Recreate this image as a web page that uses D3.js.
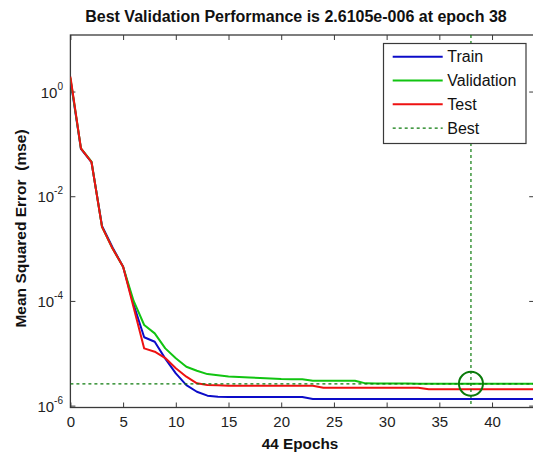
<!DOCTYPE html>
<html><head><meta charset="utf-8">
<script src="https://cdn.jsdelivr.net/npm/d3@7"></script>
<style>body{margin:0;background:#fff}svg{display:block}text{font-family:"Liberation Sans",Arial,sans-serif}</style>
</head><body>
<svg id="c" width="533" height="454"></svg>
<script>
const epochs = d3.range(0, 45);
const train = [1.7,0.08,0.045,0.0027,0.00105,4.5e-4,8.5e-5,2.02e-5,1.66e-5,7.9e-6,4.14e-6,2.47e-6,1.84e-6,1.55e-6,1.48e-6,
  1.46e-6,1.46e-6,1.46e-6,1.46e-6,1.46e-6,1.46e-6,1.46e-6,1.46e-6,
  1.34e-6,1.34e-6,1.34e-6,1.34e-6,1.34e-6,1.34e-6,1.34e-6,1.34e-6,1.34e-6,1.34e-6,1.34e-6,1.34e-6,1.34e-6,1.34e-6,1.34e-6,1.34e-6,1.34e-6,1.34e-6,1.34e-6,1.34e-6,1.34e-6,1.34e-6];
const validation = [1.8,0.082,0.046,0.0026,0.001,4.5e-4,1.0e-4,3.47e-5,2.4e-5,1.24e-5,8.0e-6,5.53e-6,4.64e-6,4.0e-6,3.79e-6,
  3.6e-6,3.52e-6,3.44e-6,3.37e-6,3.29e-6,3.22e-6,3.19e-6,3.19e-6,
  2.99e-6,2.99e-6,2.99e-6,2.99e-6,2.99e-6,
  2.66e-6,2.65e-6,2.65e-6,2.64e-6,2.64e-6,2.63e-6,2.63e-6,2.62e-6,2.62e-6,2.615e-6,2.6105e-6,
  2.62e-6,2.62e-6,2.62e-6,2.62e-6,2.62e-6,2.62e-6];
const test = [1.92,0.082,0.045,0.0026,0.001,4.5e-4,7.5e-5,1.24e-5,1.07e-5,8.1e-6,5.16e-6,3.57e-6,2.67e-6,2.47e-6,2.45e-6,
  2.4e-6,2.4e-6,2.4e-6,2.4e-6,2.4e-6,2.4e-6,2.4e-6,2.4e-6,2.4e-6,
  2.2e-6,2.2e-6,2.2e-6,2.2e-6,2.2e-6,2.2e-6,2.2e-6,2.2e-6,2.2e-6,2.2e-6,
  2.05e-6,2.05e-6,2.05e-6,2.05e-6,2.05e-6,2.05e-6,2.05e-6,2.05e-6,2.05e-6,2.05e-6,2.05e-6];
const bestEpoch = 38;
const bestValue = 2.6105e-6;
const xTicks = [0,5,10,15,20,25,30,35,40];
const yTickExps = [0,-2,-4,-6];
const seriesNames = ["Train","Validation","Test","Best"];
const titleText = "Best Validation Performance is 2.6105e-006 at epoch 38";
const xLabel = "44 Epochs";
const yLabel = "Mean Squared Error  (mse)";

const svg = d3.select("#c");
const L = 70.4, R = 534.2, T = 35, B = 407.5;
const x = d3.scaleLinear().domain([0, 44]).range([L, R]);
const y = d3.scaleLog().domain([Math.pow(10, -6.036), Math.pow(10, 1.08)]).range([B, T]);
const axisCol = "#3a3a3a";
const colors = {Train:"#0c0cc8", Validation:"#11c411", Test:"#ee1111", Best:"#0a7a0a"};

// frame
svg.append("rect").attr("x", L).attr("y", T).attr("width", R - L).attr("height", B - T)
  .attr("fill", "none").attr("stroke", axisCol).attr("stroke-width", 1.3);

// ticks via axes
const xb = d3.axisBottom(x).tickValues(xTicks).tickSizeInner(-5).tickSizeOuter(0).tickPadding(9);
const gx = svg.append("g").attr("transform", `translate(0,${B})`).call(xb);
gx.select(".domain").remove();
gx.selectAll("line").attr("stroke", axisCol);
gx.selectAll("text").attr("font-size", 15).attr("fill", "#222").attr("font-family", "Liberation Sans, Arial, sans-serif");
const xt = d3.axisTop(x).tickValues(xTicks).tickSizeInner(-5).tickSizeOuter(0).tickFormat("");
const gxt = svg.append("g").attr("transform", `translate(0,${T})`).call(xt);
gxt.select(".domain").remove();
gxt.selectAll("line").attr("stroke", axisCol);

const yVals = yTickExps.map(e => Math.pow(10, e));
const yl = d3.axisLeft(y).tickValues(yVals).tickSizeInner(-5).tickSizeOuter(0).tickFormat("");
const gy = svg.append("g").attr("transform", `translate(${L},0)`).call(yl);
gy.select(".domain").remove();
gy.selectAll("line").attr("stroke", axisCol);
const yr = d3.axisRight(y).tickValues(yVals).tickSizeInner(-5).tickSizeOuter(0).tickFormat("");
const gyr = svg.append("g").attr("transform", `translate(${R},0)`).call(yr);
gyr.select(".domain").remove();
gyr.selectAll("line").attr("stroke", axisCol);

// y tick labels 10^n
yTickExps.forEach(e => {
  const t = svg.append("text").attr("x", 63).attr("y", y(Math.pow(10, e)) + 6)
    .attr("text-anchor", "end").attr("font-size", 15).attr("fill", "#222");
  t.append("tspan").text("10");
  t.append("tspan").attr("dy", -8).attr("font-size", 10).text(e === 0 ? "0" : "-" + Math.abs(e));
});

// clip
svg.append("clipPath").attr("id", "clip").append("rect").attr("x", L).attr("y", T).attr("width", R - L).attr("height", B - T);
const plot = svg.append("g").attr("clip-path", "url(#clip)");

const line = d3.line().x((d, i) => x(epochs[i])).y(d => y(d));
[["Train", train], ["Validation", validation], ["Test", test]].forEach(([n, arr]) => {
  plot.append("path").datum(arr).attr("d", line).attr("fill", "none")
    .attr("stroke", colors[n]).attr("stroke-width", 2).attr("stroke-linejoin", "round");
});

// best lines
plot.append("line").attr("x1", L).attr("x2", R).attr("y1", y(bestValue)).attr("y2", y(bestValue))
  .attr("stroke", colors.Best).attr("stroke-width", 1.2).attr("stroke-dasharray", "3,3");
plot.append("line").attr("x1", x(bestEpoch)).attr("x2", x(bestEpoch)).attr("y1", T).attr("y2", B)
  .attr("stroke", colors.Best).attr("stroke-width", 1.2).attr("stroke-dasharray", "3,3");
plot.append("circle").attr("cx", x(bestEpoch)).attr("cy", y(bestValue)).attr("r", 12)
  .attr("fill", "none").attr("stroke", colors.Best).attr("stroke-width", 2);

// legend
const lg = svg.append("g");
lg.append("rect").attr("x", 383.5).attr("y", 43.5).attr("width", 142.5).attr("height", 100)
  .attr("fill", "#fff").attr("stroke", axisCol).attr("stroke-width", 1.2);
seriesNames.forEach((n, i) => {
  const yy = 56.7 + i * 23.8;
  lg.append("line").attr("x1", 392.7).attr("x2", 442.7).attr("y1", yy).attr("y2", yy)
    .attr("stroke", colors[n]).attr("stroke-width", n === "Best" ? 1.2 : 2)
    .attr("stroke-dasharray", n === "Best" ? "3,3" : null);
  lg.append("text").attr("x", 447.3).attr("y", yy + 5.5).attr("font-size", 16).attr("fill", "#111").text(n);
});

// titles
svg.append("text").attr("x", 296).attr("y", 21.5).attr("text-anchor", "middle")
  .attr("font-size", 16).attr("font-weight", "bold").attr("fill", "#111").text(titleText);
svg.append("text").attr("x", 300).attr("y", 448.5).attr("text-anchor", "middle")
  .attr("font-size", 15.3).attr("font-weight", "bold").attr("fill", "#111").text(xLabel);
svg.append("text").attr("transform", "translate(25.5,228.5) rotate(-90)").attr("text-anchor", "middle")
  .attr("font-size", 15.5).attr("font-weight", "bold").attr("fill", "#111")
  .style("white-space", "pre").text(yLabel);
</script>
</body></html>
